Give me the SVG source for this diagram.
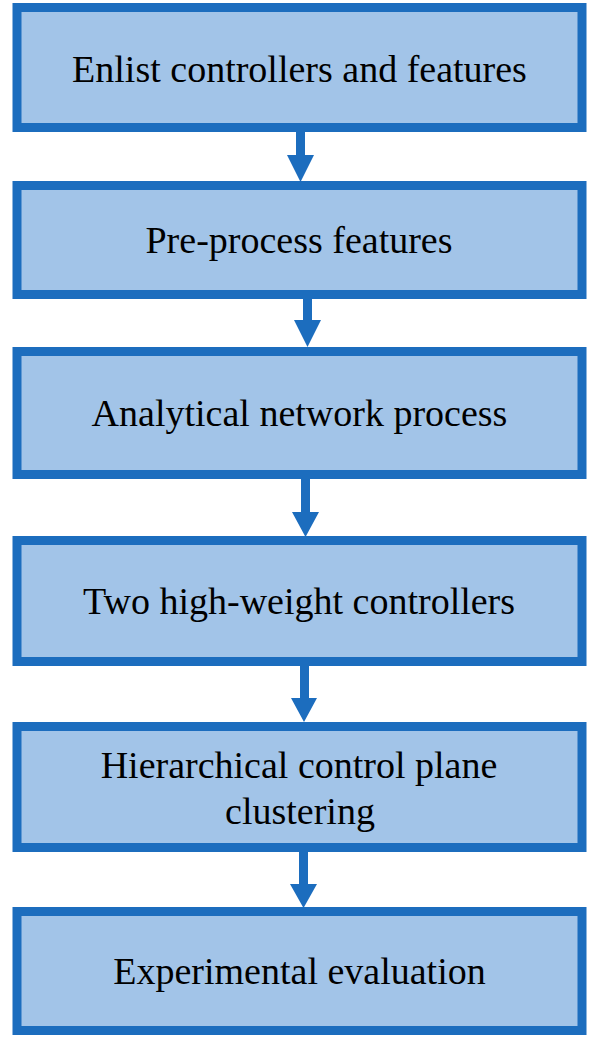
<svg xmlns="http://www.w3.org/2000/svg" width="598" height="1040" viewBox="0 0 598 1040">
<style>
.box{fill:#A2C4E8;stroke:#1C6DBE;stroke-width:9}
.lbl{font-family:"Liberation Serif","Times New Roman",serif;font-size:38px;fill:#000;text-anchor:middle}
.arr{fill:#1C6DBE}
</style>
<rect width="598" height="1040" fill="#fff"/>
<g id="n1"><rect class="box" x="17" y="7.5" width="565" height="120"/><text class="lbl" x="299.5" y="82">Enlist controllers and features</text></g>
<g id="n2"><rect class="box" x="17" y="185.5" width="565" height="109"/><text class="lbl" x="299" y="253">Pre-process features</text></g>
<g id="n3"><rect class="box" x="17" y="351.5" width="565" height="123"/><text class="lbl" x="299.5" y="426">Analytical network process</text></g>
<g id="n4"><rect class="box" x="17" y="540.5" width="565" height="121"/><text class="lbl" x="299" y="614">Two high-weight controllers</text></g>
<g id="n5"><rect class="box" x="17" y="726.5" width="565" height="121"/><text class="lbl" x="299" y="778">Hierarchical control plane</text><text class="lbl" x="300" y="824">clustering</text></g>
<g id="n6"><rect class="box" x="17" y="911.5" width="565" height="119"/><text class="lbl" x="299.5" y="984">Experimental evaluation</text></g>
<g id="connectors">
<polygon class="arr" points="296,132 305,132 305,155 314,155 300.5,182 287,155 296,155"/>
<polygon class="arr" points="303,299 312,299 312,320 321,320 307.5,347 294,320 303,320"/>
<polygon class="arr" points="301,479 310,479 310,512 319,512 305.5,537 292,512 301,512"/>
<polygon class="arr" points="300,666 309,666 309,698 317,698 304,722 291,698 300,698"/>
<polygon class="arr" points="299,852 308,852 308,884 317,884 303.5,908 290,884 299,884"/>
</g>
</svg>
